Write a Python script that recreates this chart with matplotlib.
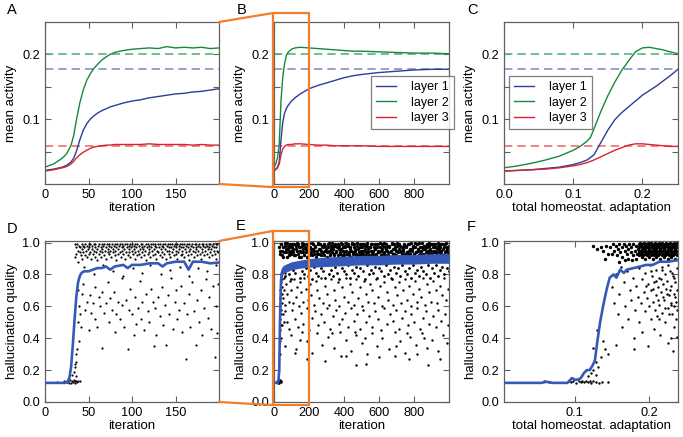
import numpy as np
import matplotlib
matplotlib.use("Agg")
import matplotlib.pyplot as plt
from matplotlib import transforms
from matplotlib.patches import Rectangle, ConnectionPatch

plt.rcParams['font.family'] = ['Liberation Sans', 'DejaVu Sans']
plt.rcParams['font.size'] = 9

# ---------------- data ----------------
# mean activity, short run (A)
a_iter = [0, 10, 20, 25, 30, 33, 36, 40, 44, 48, 52, 56, 60, 65, 70, 75, 80, 90,
          100, 110, 120, 130, 140, 150, 160, 170, 180, 190, 200]
a_layer1 = [0.021, 0.023, 0.026, 0.029, 0.034, 0.040, 0.050, 0.068, 0.083, 0.093, 0.100,
            0.105, 0.109, 0.113, 0.116, 0.119, 0.121, 0.125, 0.128, 0.130, 0.133, 0.135,
            0.137, 0.139, 0.140, 0.142, 0.143, 0.145, 0.147]
a_layer2 = [0.026, 0.031, 0.040, 0.047, 0.060, 0.075, 0.098, 0.125, 0.145, 0.160, 0.170,
            0.178, 0.184, 0.191, 0.196, 0.200, 0.203, 0.206, 0.208, 0.209, 0.210, 0.209,
            0.212, 0.210, 0.211, 0.210, 0.211, 0.209, 0.210]
a_layer3 = [0.020, 0.022, 0.025, 0.027, 0.031, 0.035, 0.040, 0.045, 0.049, 0.052, 0.055,
            0.057, 0.058, 0.059, 0.060, 0.060, 0.061, 0.061, 0.061, 0.061, 0.062, 0.061,
            0.061, 0.061, 0.061, 0.060, 0.061, 0.060, 0.060]

# mean activity, long run (B)
b_iter = [0, 10, 20, 30, 40, 50, 60, 70, 80, 100, 120, 150, 200, 250, 300, 350, 400,
          450, 500, 600, 700, 800, 900, 1000]
b_layer1 = [0.021, 0.023, 0.026, 0.034, 0.068, 0.095, 0.109, 0.116, 0.121, 0.128, 0.133,
            0.139, 0.147, 0.152, 0.156, 0.160, 0.164, 0.167, 0.169, 0.172, 0.174, 0.176,
            0.177, 0.177]
b_layer2 = [0.026, 0.031, 0.040, 0.062, 0.128, 0.165, 0.185, 0.198, 0.203, 0.208, 0.210,
            0.211, 0.210, 0.209, 0.208, 0.207, 0.206, 0.205, 0.205, 0.204, 0.203, 0.202,
            0.202, 0.201]
b_layer3 = [0.020, 0.022, 0.025, 0.031, 0.045, 0.054, 0.058, 0.060, 0.061, 0.061, 0.062,
            0.062, 0.061, 0.060, 0.060, 0.059, 0.059, 0.059, 0.059, 0.058, 0.058, 0.058,
            0.058, 0.058]

# mean activity vs total homeostatic adaptation (C)
c_adapt = [0.0, 0.02, 0.04, 0.06, 0.08, 0.10, 0.11, 0.12, 0.125, 0.13, 0.14, 0.15, 0.16,
           0.17, 0.18, 0.19, 0.20, 0.21, 0.22, 0.23, 0.24, 0.2515]
c_layer1 = [0.020, 0.021, 0.022, 0.024, 0.026, 0.030, 0.033, 0.037, 0.041, 0.045, 0.064,
            0.083, 0.099, 0.110, 0.119, 0.128, 0.137, 0.144, 0.151, 0.159, 0.167, 0.177]
c_layer2 = [0.025, 0.028, 0.032, 0.037, 0.043, 0.052, 0.058, 0.066, 0.072, 0.085, 0.112,
            0.136, 0.157, 0.175, 0.190, 0.204, 0.210, 0.211, 0.209, 0.207, 0.204, 0.201]
c_layer3 = [0.020, 0.021, 0.022, 0.023, 0.025, 0.028, 0.030, 0.033, 0.035, 0.037, 0.042,
            0.047, 0.052, 0.056, 0.060, 0.062, 0.062, 0.061, 0.060, 0.059, 0.058, 0.058]

# target activities (dashed)
targets = [0.178, 0.200, 0.058]
layer_names = ['layer 1', 'layer 2', 'layer 3']

# hallucination quality, running mean (D)
d_iter = [0, 10, 20, 24, 26, 28, 30, 32, 34, 36, 38, 40, 42, 45, 50, 55, 60, 65, 70, 75,
          80, 90, 95, 100, 110, 120, 130, 135, 140, 150, 160, 165, 170, 180, 190, 200]
d_mean = [0.12, 0.12, 0.12, 0.12, 0.13, 0.15, 0.22, 0.36, 0.52, 0.66, 0.75, 0.79, 0.81,
          0.82, 0.82, 0.83, 0.84, 0.84, 0.85, 0.83, 0.85, 0.86, 0.84, 0.86, 0.86, 0.87,
          0.87, 0.85, 0.87, 0.88, 0.88, 0.83, 0.88, 0.88, 0.87, 0.875]

# hallucination quality, running mean and its spread (E)
e_iter = [0, 10, 20, 25, 30, 35, 40, 45, 50, 60, 70, 80, 100, 130, 160, 200, 250, 300,
          400, 500, 600, 700, 800, 900, 1000]
e_mean = [0.12, 0.12, 0.12, 0.13, 0.20, 0.55, 0.76, 0.81, 0.83, 0.845, 0.85, 0.855, 0.86,
          0.865, 0.87, 0.875, 0.88, 0.885, 0.89, 0.89, 0.89, 0.895, 0.895, 0.90, 0.90]
e_band_iter = [40, 45, 50, 60, 80, 100, 150, 200, 300, 400, 500, 600, 700, 800, 900, 1000]
e_band_lo = [0.74, 0.78, 0.80, 0.81, 0.82, 0.83, 0.84, 0.845, 0.85, 0.855, 0.86, 0.86,
             0.865, 0.865, 0.87, 0.87]
e_band_hi = [0.80, 0.84, 0.85, 0.86, 0.87, 0.88, 0.89, 0.90, 0.91, 0.915, 0.92, 0.92,
             0.925, 0.925, 0.93, 0.93]

# hallucination quality vs adaptation, running mean (F)
f_adapt = [0.0045, 0.03, 0.055, 0.062, 0.07, 0.09, 0.093, 0.096, 0.10, 0.104, 0.108,
           0.112, 0.116, 0.12, 0.124, 0.127, 0.13, 0.134, 0.138, 0.143, 0.147, 0.152,
           0.156, 0.161, 0.166, 0.17, 0.179, 0.188, 0.196, 0.205, 0.214, 0.225, 0.239]
f_mean = [0.12, 0.12, 0.12, 0.127, 0.12, 0.12, 0.135, 0.15, 0.14, 0.14, 0.15, 0.18, 0.20,
          0.20, 0.23, 0.26, 0.37, 0.50, 0.60, 0.71, 0.78, 0.80, 0.78, 0.83, 0.81, 0.83,
          0.84, 0.85, 0.86, 0.86, 0.88, 0.88, 0.89]

# single hallucination samples (iteration, quality) for D
d_samples = [
    (34,.99),(35,.91),(36,.97),(36,.93),(37,.99),(38,.95),(38,.88),(39,.98),(40,.94),(40,.97),
    (41,.92),(42,.99),(42,.96),(43,.90),(44,.98),(44,.94),(45,.97),(46,.99),(46,.92),(47,.95),
    (48,.98),(48,.91),(49,.96),(50,.99),(50,.93),(51,.97),(52,.94),(52,.99),(53,.90),(54,.96),
    (54,.98),(55,.93),(56,.99),(56,.95),(57,.91),(58,.97),(58,.99),(59,.94),(60,.96),(60,.89),
    (61,.98),(62,.93),(62,.99),(63,.95),(64,.97),(64,.91),(65,.99),(66,.94),(66,.96),(67,.98),
    (68,.92),(68,.99),(69,.95),(70,.97),(70,.90),(71,.99),(72,.94),(72,.96),(73,.98),(74,.93),
    (74,.99),(75,.95),(76,.91),(76,.97),(77,.99),(78,.94),(78,.96),(79,.98),(80,.92),(80,.99),
    (81,.95),(82,.97),(82,.89),(83,.99),(84,.93),(84,.96),(85,.98),(86,.94),(86,.99),(87,.91),
    (88,.97),(88,.95),(89,.99),(90,.93),(90,.98),(91,.96),(92,.99),(92,.90),(93,.94),(94,.97),
    (94,.99),(95,.92),(96,.96),(96,.98),(97,.94),(98,.99),(98,.91),(99,.97),(100,.95),(100,.99),
    (101,.93),(102,.98),(102,.96),(103,.90),(104,.99),(104,.94),(105,.97),(106,.92),(106,.99),
    (107,.95),(108,.98),(108,.93),(109,.96),(110,.99),(110,.91),(111,.97),(112,.94),(112,.99),
    (113,.96),(114,.98),(114,.92),(115,.95),(116,.99),(116,.89),(117,.97),(118,.93),(118,.99),
    (119,.96),(120,.98),(120,.94),(121,.91),(122,.99),(122,.97),(123,.95),(124,.92),(124,.99),
    (125,.96),(126,.98),(126,.93),(127,.99),(128,.90),(128,.97),(129,.95),(130,.99),(130,.94),
    (131,.97),(132,.92),(132,.99),(133,.96),(134,.98),(134,.91),(135,.94),(136,.99),(136,.97),
    (137,.93),(138,.96),(138,.99),(139,.90),(140,.98),(140,.95),(141,.99),(142,.93),(142,.97),
    (143,.95),(144,.99),(144,.91),(145,.97),(146,.94),(146,.99),(147,.96),(148,.92),(148,.98),
    (149,.99),(150,.95),(150,.93),(151,.97),(152,.99),(152,.90),(153,.94),(154,.98),(154,.96),
    (155,.99),(156,.92),(156,.97),(157,.95),(158,.99),(158,.93),(159,.97),(160,.91),(160,.99),
    (161,.96),(162,.98),(162,.94),(163,.99),(164,.92),(164,.97),(165,.95),(166,.99),(166,.89),
    (167,.96),(168,.98),(168,.93),(169,.99),(170,.95),(170,.97),(171,.91),(172,.99),(172,.94),
    (173,.97),(174,.96),(174,.99),(175,.92),(176,.98),(176,.95),(177,.99),(178,.93),(178,.97),
    (179,.90),(180,.99),(180,.96),(181,.94),(182,.98),(182,.99),(183,.92),(184,.97),(184,.95),
    (185,.99),(186,.93),(186,.98),(187,.96),(188,.99),(188,.91),(189,.97),(190,.94),(190,.99),
    (191,.96),(192,.98),(192,.92),(193,.99),(194,.95),(194,.97),(195,.93),(196,.99),(196,.90),
    (197,.97),(198,.95),(198,.99),(199,.94),
    (38,.70),(39,.60),(40,.55),(41,.47),(38,.50),(37,.33),(36,.25),(35,.22),(36,.30),(39,.38),
    (42,.68),(44,.74),(46,.58),(48,.63),(50,.45),(52,.67),(53,.56),(55,.62),(57,.72),(58,.52),
    (60,.47),(62,.66),(63,.60),(65,.34),(66,.69),(68,.56),(70,.62),(72,.75),(74,.50),(75,.65),
    (77,.58),(79,.69),(80,.44),(82,.55),(84,.63),(86,.52),(88,.78),(89,.61),(91,.47),(93,.64),
    (95,.33),(96,.58),(98,.71),(100,.55),(102,.42),(104,.66),(105,.49),(107,.59),(109,.76),
    (110,.52),(112,.63),(114,.45),(116,.68),(118,.57),(120,.50),(122,.71),(124,.63),(125,.35),
    (127,.59),(128,.42),(130,.66),(132,.54),(134,.72),(136,.48),(138,.61),(139,.36),(141,.67),
    (143,.55),(145,.78),(147,.46),(149,.63),(150,.70),(152,.52),(154,.58),(156,.73),(158,.44),
    (160,.62),(162,.27),(163,.55),(165,.68),(167,.47),(169,.75),(171,.57),(173,.36),(175,.64),
    (177,.50),(179,.70),(181,.42),(183,.59),(185,.77),(187,.53),(189,.66),(191,.46),(193,.73),
    (195,.28),(196,.60),(198,.43),(199,.74),
    (45,.85),(56,.80),(67,.86),(78,.82),(90,.79),(101,.84),(111,.81),(121,.86),(133,.80),
    (144,.83),(155,.85),(166,.79),(176,.84),(186,.82),(197,.86),
    (14,.125),(22,.13),(25,.125),(27,.13),(28,.12),(29,.135),(30,.12),(31,.13),(32,.125),
    (33,.14),(34,.13),(35,.12),(36,.13),(37,.125),(38,.13),(40,.13),(31,.17),(33,.19),
    (34,.24),(36,.16),
]

# single hallucination samples for E: dense top band, band below the mean, sparse tail
e_top = [
    (30,.97),(36,.93),(42,.99),(48,.95),(54,.91),(60,.98),(66,.94),(72,1.0),(78,.96),(84,.92),
    (90,.99),(96,.95),(102,.97),(108,.94),(114,.99),(120,.92),(126,.96),(132,1.0),(138,.93),
    (144,.97),(150,.95),(156,.91),(162,.98),(168,.94),(174,.99),(180,.96),(186,.99),(192,.95),
    (198,.92),(204,.97),(210,.94),(216,1.0),(222,.96),(228,.93),(234,.98),(240,.91),(246,.95),
    (252,.99),(258,.93),(264,.96),(270,.92),(276,.98),(282,.94),(288,.99),(294,.95),(300,.91),
    (306,.97),(312,1.0),(318,.93),(324,.96),(330,.94),(336,.98),(342,.93),(348,.99),(354,.95),
    (360,.97),(366,.92),(372,.98),(378,.94),(384,.96),(390,.99),(396,.95),(402,.92),(408,.97),
    (414,1.0),(420,.98),(426,.94),(432,.96),(438,.91),(444,.99),(450,.93),(456,.97),(462,.95),
    (468,.92),(474,1.0),(480,.96),(486,.94),(492,.99),(498,.95),(504,.97),(510,.93),(516,.99),
    (522,.96),(528,.92),(534,.98),(540,.94),(546,.97),(552,.99),(558,.93),(564,.95),(570,.91),
    (576,.99),(582,.93),(588,.97),(594,.95),(600,.94),(606,1.0),(612,.92),(618,.96),(624,.98),
    (630,.94),(636,.97),(642,.99),(648,.95),(654,.92),(660,.98),(666,.94),(672,.99),(678,.96),
    (684,.93),(690,.97),(696,.95),(702,1.0),(708,.91),(714,.96),(720,.98),(726,.94),(732,.97),
    (738,.95),(744,.99),(750,.93),(756,.98),(762,.94),(768,.92),(774,.99),(780,.96),(786,.95),
    (792,.97),(798,.93),(804,1.0),(810,.94),(816,.99),(822,.96),(828,.92),(834,.97),(840,.95),
    (846,1.0),(852,.93),(858,.98),(864,.96),(870,.91),(876,.99),(882,.95),(888,.98),(894,.93),
    (900,.95),(906,.99),(912,.94),(918,.97),(924,.92),(930,.96),(936,1.0),(942,.94),(948,.97),
    (954,.93),(960,.99),(966,.96),(972,.92),(978,.99),(984,.95),(990,.97),(996,.94),
    (33,.95),(39,.99),(45,.92),(51,.97),(57,.94),(63,1.0),(69,.96),(75,.91),(81,.98),(87,.94),
    (93,.97),(99,.93),(105,.99),(111,.96),(117,.92),(123,.98),(129,.95),(135,.99),(141,.91),
    (147,.97),(153,.94),(159,1.0),(165,.96),(171,.92),(177,.97),(183,.94),(189,.91),(195,.98),
    (201,1.0),(207,.93),(213,.96),(219,.92),(225,.99),(231,.95),(237,.97),(243,.93),(249,1.0),
    (255,.96),(261,.99),(267,.95),(273,.93),(279,.97),(285,.92),(291,.98),(297,.96),(303,.94),
    (309,.99),(315,.95),(321,.92),(327,.98),(333,1.0),(339,.96),(345,.92),(351,.98),(357,.94),
    (363,.99),(369,.96),(375,.93),(381,1.0),(387,.92),(393,.97),(399,.94),(405,.98),(411,.95),
    (417,.93),(423,.99),(429,.92),(435,.97),(441,.95),(447,1.0),(453,.94),(459,.99),(465,.96),
    (471,.93),(477,.98),(483,.92),(489,.97),(495,.93),(501,.99),(507,.95),(513,.91),(519,.98),
    (525,.94),(531,1.0),(537,.96),(543,.92),(549,.97),(555,.95),(561,.99),(567,.93),(573,.97),
    (579,.96),(585,.92),(591,.99),(597,.94),(603,.97),(609,.95),(615,.99),(621,.93),(627,1.0),
    (633,.92),(639,.96),(645,.98),(651,.94),(657,.97),(663,.91),(669,.95),(675,1.0),(681,.93),
    (687,.99),(693,.96),(699,.92),(705,.98),(711,.94),(717,.99),(723,.95),(729,.93),(735,.96),
    (741,.98),(747,.92),(753,.97),(759,.94),(765,.99),(771,.95),(777,.93),(783,1.0),(789,.96),
    (795,.98),(801,.92),(807,.97),(813,.94),(819,.99),(825,.95),(831,1.0),(837,.93),(843,.97),
    (849,.96),(855,.92),(861,.98),(867,.94),(873,.97),(879,.93),(885,1.0),(891,.96),(897,.99),
    (903,.93),(909,.97),(915,.95),(921,.99),(927,.94),(933,.92),(939,.98),(945,.96),(951,.99),
    (957,.95),(963,.92),(969,.97),(975,.94),(981,1.0),(987,.96),(993,.92),(999,.98),
]
e_mid = [
    (50,.82),(62,.79),(74,.84),(86,.80),(98,.77),(110,.83),(122,.81),(134,.85),(146,.78),
    (158,.82),(170,.80),(182,.84),(194,.79),(206,.83),(218,.77),(230,.85),(242,.81),(254,.79),
    (266,.84),(278,.82),(290,.78),(302,.86),(314,.80),(326,.83),(338,.79),(350,.85),(362,.81),
    (374,.77),(386,.84),(398,.82),(410,.80),(422,.86),(434,.78),(446,.83),(458,.81),(470,.85),
    (482,.79),(494,.84),(506,.82),(518,.77),(530,.86),(542,.80),(554,.83),(566,.81),(578,.85),
    (590,.78),(602,.84),(614,.82),(626,.79),(638,.86),(650,.80),(662,.83),(674,.77),(686,.85),
    (698,.81),(710,.84),(722,.79),(734,.86),(746,.82),(758,.80),(770,.84),(782,.78),(794,.86),
    (806,.81),(818,.83),(830,.79),(842,.85),(854,.82),(866,.80),(878,.86),(890,.78),(902,.84),
    (914,.81),(926,.86),(938,.79),(950,.83),(962,.85),(974,.80),(986,.84),(998,.82),
]
e_tail = [
    (45,.72),(52,.65),(58,.78),(63,.61),(70,.74),(77,.68),(85,.63),(92,.76),(99,.70),(108,.62),
    (115,.77),(123,.66),(131,.72),(140,.60),(148,.75),(156,.69),(165,.63),(174,.78),(183,.71),
    (192,.64),(205,.74),(214,.67),(226,.61),(238,.76),(247,.70),(259,.65),(270,.78),(281,.62),
    (293,.73),(305,.68),(316,.61),(328,.77),(340,.70),(351,.64),(363,.75),(374,.60),(386,.72),
    (398,.66),(409,.78),(421,.63),(433,.74),(444,.69),(456,.61),(468,.77),(479,.65),(491,.72),
    (503,.60),(514,.76),(526,.68),(538,.63),(549,.74),(561,.70),(573,.62),(584,.77),(596,.66),
    (608,.73),(619,.60),(631,.75),(643,.69),(654,.64),(666,.78),(678,.61),(689,.72),(701,.67),
    (713,.75),(724,.62),(736,.70),(748,.77),(759,.64),(771,.73),(783,.60),(794,.68),(806,.76),
    (818,.63),(829,.71),(841,.66),(853,.78),(864,.61),(876,.74),(888,.69),(899,.63),(911,.76),
    (923,.70),(934,.62),(946,.73),(958,.67),(969,.78),(981,.64),(993,.71),
    (40,.55),(48,.48),(60,.57),(74,.50),(88,.46),(103,.58),(119,.52),(135,.47),(152,.56),
    (168,.49),(187,.59),(201,.45),(219,.53),(236,.57),(252,.48),(268,.55),(287,.50),(302,.59),
    (320,.46),(337,.54),(355,.58),(371,.49),(389,.52),(405,.56),(423,.47),(440,.59),(457,.51),
    (474,.55),(492,.46),(509,.58),(526,.50),(543,.54),(561,.47),(578,.57),(595,.52),(612,.45),
    (630,.59),(647,.49),(664,.55),(681,.51),(699,.58),(716,.46),(733,.53),(750,.57),(768,.48),
    (785,.55),(802,.50),(819,.59),(837,.46),(854,.53),(871,.57),(888,.49),(906,.54),(923,.47),
    (940,.58),(957,.51),(975,.55),(992,.48),
    (42,.40),(65,.35),(95,.42),(128,.33),(160,.44),(190,.38),(215,.31),(245,.43),(275,.36),
    (310,.41),(345,.34),(378,.44),(410,.39),(440,.32),(470,.42),(500,.37),(530,.30),(560,.43),
    (590,.35),(620,.40),(655,.33),(690,.44),(720,.38),(750,.31),(780,.41),(812,.36),(845,.43),
    (875,.34),(905,.39),(935,.32),(965,.42),(990,.37),(150,.39),(330,.43),(520,.40),(700,.35),
    (860,.40),(118,.31),(462,.44),(760,.43),
    (190,.27),(290,.26),(380,.29),(470,.23),(525,.24),(600,.28),(690,.29),(770,.27),(880,.23),
    (950,.27),(410,.29),(820,.30),
    (32,.30),(33,.45),(34,.60),(35,.52),(36,.70),(36,.38),(37,.65),(38,.80),(39,.58),(40,.75),
    (41,.48),(43,.68),(44,.82),(46,.62),(47,.77),(50,.55),(53,.84),(55,.70),(57,.50),(60,.81),
    (18,.13),(22,.12),(25,.13),(27,.125),(30,.12),(32,.135),(35,.13),(38,.125),(40,.13),(28,.14),
]

# single hallucination samples for F (adaptation in units of 1e-3, quality)
f_top = [
    (186,.97),(186,.92),(187,.99),(187,.94),(188,.95),(188,1.0),(189,.93),(189,.98),(190,.96),
    (190,.91),(191,.99),(191,.94),(192,.97),(192,.92),(193,1.0),(193,.95),(194,.93),(194,.98),
    (195,.96),(195,.90),(196,.99),(196,.94),(197,.97),(197,.92),(198,.95),(198,1.0),(199,.93),
    (199,.98),(200,.96),(200,.91),(201,.99),(201,.94),(202,.97),(202,.92),(203,1.0),(203,.95),
    (204,.93),(204,.98),(205,.96),(205,.90),(206,.99),(206,.94),(207,.97),(207,.92),(208,.95),
    (208,1.0),(209,.93),(209,.98),(210,.96),(210,.91),(211,.99),(211,.94),(212,.97),(212,.92),
    (213,1.0),(213,.95),(214,.93),(214,.98),(215,.96),(215,.90),(216,.99),(216,.94),(217,.97),
    (217,.92),(218,.95),(218,1.0),(219,.93),(219,.98),(220,.96),(220,.91),(221,.99),(221,.94),
    (222,.97),(222,.92),(223,1.0),(223,.95),(224,.93),(224,.98),(225,.96),(225,.90),(226,.99),
    (226,.94),(227,.97),(227,.92),(228,.95),(228,1.0),(229,.93),(229,.98),(230,.96),(230,.91),
    (231,.99),(231,.94),(232,.97),(232,.92),(233,1.0),(233,.95),(234,.93),(234,.98),(235,.96),
    (235,.90),(236,.99),(236,.94),(237,.97),(237,.92),(238,.95),(238,1.0),
    (148,.97),(150,.93),(152,.99),(153,.95),(155,.98),(157,.92),(158,.96),(160,.99),(161,.94),
    (163,.97),(164,.91),(166,.99),(167,.95),(169,.98),(170,.93),(172,.96),(173,.99),(175,.94),
    (176,.97),(178,.92),(179,.99),(181,.95),(182,.98),(184,.93),(185,.96),(171,.90),(177,.89),
    (183,.90),(159,.88),(168,.89),
    (125,.98),(130,.96),(135,.97),(138,.95),(142,.98),(145,.93),(140,.90),
]
f_tail = [
    (150,.72),(153,.62),(156,.80),(158,.55),(160,.68),(162,.85),(164,.47),(166,.75),(168,.60),
    (170,.82),(172,.52),(174,.70),(176,.64),(178,.78),(180,.40),(181,.58),(183,.73),(185,.66),
    (186,.84),(187,.50),(189,.62),(190,.77),(191,.44),(193,.69),(194,.57),(195,.81),(197,.65),
    (198,.35),(199,.74),(200,.60),(201,.86),(202,.52),(203,.70),(204,.79),(205,.63),(206,.46),
    (207,.75),(208,.58),(209,.83),(210,.67),(211,.54),(212,.72),(213,.78),(214,.61),(215,.42),
    (216,.69),(217,.85),(218,.56),(219,.74),(220,.64),(221,.80),(222,.50),(223,.71),(224,.76),
    (225,.59),(226,.37),(227,.67),(228,.82),(229,.62),(230,.73),(231,.55),(232,.79),(233,.68),
    (234,.47),(235,.75),(236,.63),(237,.84),(238,.58),(196,.73),(212,.64),(224,.68),(233,.60),
    (228,.70),(219,.66),(205,.71),(216,.77),(231,.81),(237,.70),(222,.59),(210,.76),(227,.55),
    (235,.66),(214,.52),(203,.82),(226,.86),(234,.78),(218,.83),(230,.61),(238,.41),(236,.52),
    (125,.34),(128,.25),(130,.45),(135,.28),(138,.38),(140,.33),(145,.30),(155,.36),(180,.33),
    (229,.40),(232,.32),(118,.16),(122,.18),(125,.20),(128,.17),(131,.22),
    (58,.13),(65,.125),(92,.13),(95,.125),(98,.13),(102,.12),(105,.13),(108,.125),(110,.13),
    (112,.125),(115,.13),(118,.125),(120,.13),(122,.12),(125,.13),(128,.125),(132,.12),
    (137,.125),(145,.125),
]

# ---------------- styling ----------------
line_cols = ['#2c3d98', '#17893d', '#d9222e']
dash_cols = ['#8391c2', '#55b57c', '#ef6e6e']
qual_col = '#3459b8'
orange = '#ef7f2d'
frame_col = '#606060'
label_size = 9.5


def style_axes(ax):
    for s in ax.spines.values():
        s.set_color(frame_col)
        s.set_linewidth(0.9)
    ax.tick_params(direction='in', top=True, right=True, length=4, width=0.8,
                   color=frame_col, labelsize=9.2, pad=3.5)


def activity_panel(ax, x, ys, xlim):
    for t, c in zip(targets, dash_cols):
        ax.axhline(t, color=c, lw=1.2, dashes=(5, 3))
    for y, c, name in zip(ys, line_cols, layer_names):
        ax.plot(x, y, color=c, lw=1.0, label=name)
    ax.set_xlim(*xlim)
    ax.set_ylim(0.0, 0.25)
    ax.set_yticks([0.05, 0.1, 0.15, 0.2])
    ax.set_yticklabels(['', '0.1', '', '0.2'])
    ax.set_ylabel('mean activity', labelpad=4, fontsize=label_size)
    style_axes(ax)


def samples_xy(samples):
    arr = np.array(samples, dtype=float)
    return arr[:, 0], arr[:, 1]


fig = plt.figure(figsize=(6.83, 4.37), dpi=100)
W, H = 683.0, 437.0


def add_ax(left, top, right, bottom):
    return fig.add_axes([left / W, 1 - bottom / H, (right - left) / W, (bottom - top) / H])


axA = add_ax(45, 22, 219, 184)
axB = add_ax(274, 22, 449, 184)
axC = add_ax(504, 22, 678, 184)
axD = add_ax(45, 241, 219, 402)
axE = add_ax(274, 241, 449, 402)
axF = add_ax(504, 241, 678, 402)

# A
activity_panel(axA, a_iter, [a_layer1, a_layer2, a_layer3], (0, 200))
axA.set_xticks([0, 50, 100, 150])
axA.set_xlabel('iteration', labelpad=1, fontsize=label_size)

# B
activity_panel(axB, b_iter, [b_layer1, b_layer2, b_layer3], (0, 1000))
axB.set_xticks([0, 200, 400, 600, 800])
axB.set_xlabel('iteration', labelpad=1, fontsize=label_size)
legB = axB.legend(loc='upper left', bbox_to_anchor=(0.554, 0.667), borderaxespad=0,
                  fontsize=9, frameon=True, fancybox=False, handlelength=1.6,
                  handletextpad=1.2, labelspacing=0.3, borderpad=0.4)
legB.get_frame().set_edgecolor(frame_col)
legB.get_frame().set_linewidth(0.9)

# C
activity_panel(axC, c_adapt, [c_layer1, c_layer2, c_layer3], (0, 0.2515))
axC.set_xticks([0.0, 0.1, 0.2])
axC.set_xticklabels(['0.0', '0.1', '0.2'])
axC.set_xlabel('total homeostat. adaptation', labelpad=1, fontsize=label_size)
legC = axC.legend(loc='upper left', bbox_to_anchor=(0.03, 0.667), borderaxespad=0,
                  fontsize=9, frameon=True, fancybox=False, handlelength=1.6,
                  handletextpad=1.2, labelspacing=0.3, borderpad=0.4)
legC.get_frame().set_edgecolor(frame_col)
legC.get_frame().set_linewidth(0.9)


def quality_axes(ax):
    ax.set_ylim(0.0, 1.01)
    ax.set_yticks([0.0, 0.2, 0.4, 0.6, 0.8, 1.0])
    ax.set_yticklabels(['0.0', '0.2', '0.4', '0.6', '0.8', '1.0'])
    ax.set_ylabel('hallucination quality', labelpad=3, fontsize=label_size)
    style_axes(ax)


# D
dx, dy = samples_xy(d_samples)
axD.scatter(dx, dy, s=2.5, c='black', lw=0, zorder=2)
axD.plot(d_iter, d_mean, color=qual_col, lw=1.9, zorder=3)
axD.set_xlim(0, 200)
axD.set_xticks([0, 50, 100, 150])
axD.set_xlabel('iteration', labelpad=1, fontsize=label_size)
quality_axes(axD)

# E
ex, ey = samples_xy(e_top)
axE.scatter(ex, ey, s=6, c='black', lw=0, zorder=2)
ex, ey = samples_xy(e_mid)
axE.scatter(ex, ey, s=4, c='black', lw=0, zorder=2)
ex, ey = samples_xy(e_tail)
axE.scatter(ex, ey, s=3, c='black', lw=0, zorder=2)
axE.fill_between(e_band_iter, e_band_lo, e_band_hi, color=qual_col, lw=0, zorder=3)
axE.plot(e_iter, e_mean, color=qual_col, lw=1.9, zorder=3)
axE.set_xlim(0, 1000)
axE.set_xticks([0, 200, 400, 600, 800])
axE.set_xlabel('iteration', labelpad=1, fontsize=label_size)
quality_axes(axE)

# F
fx, fy = samples_xy(f_top)
axF.scatter(fx / 1000, fy, s=6, c='black', lw=0, zorder=2)
fx, fy = samples_xy(f_tail)
axF.scatter(fx / 1000, fy, s=3, c='black', lw=0, zorder=2)
axF.plot(f_adapt, f_mean, color=qual_col, lw=1.9, zorder=3)
axF.set_xlim(0.0045, 0.239)
axF.set_xticks([0.1, 0.2])
axF.set_xticklabels(['0.1', '0.2'])
axF.set_xlabel('total homeostat. adaptation', labelpad=1, fontsize=label_size)
quality_axes(axF)

# zoom indicators: orange box on B/E around the first 200 iterations, joined to A/D
for src, dst, ytop, ybot in [(axA, axB, 1.055, -0.019), (axD, axE, 1.062, -0.019)]:
    blend = transforms.blended_transform_factory(dst.transData, dst.transAxes)
    rect = Rectangle((-8, ybot), 208, ytop - ybot, transform=blend, fill=False,
                     ec=orange, lw=1.6, clip_on=False, zorder=10)
    dst.add_patch(rect)
    for ya, yb in [(1, ytop), (0, ybot)]:
        con = ConnectionPatch(xyA=(1, ya), coordsA=src.transAxes, xyB=(-8, yb),
                              coordsB=blend, color=orange, lw=1.6, zorder=10)
        fig.add_artist(con)

# panel letters
for letter, (px, py) in zip('ABCDEF', [(7, 10), (237, 10), (467, 10),
                                       (7, 229), (236, 226), (467, 227)]):
    fig.text(px / W, 1 - py / H, letter, fontsize=10.5, va='center', ha='left')

fig.savefig('out.png', dpi=100)
